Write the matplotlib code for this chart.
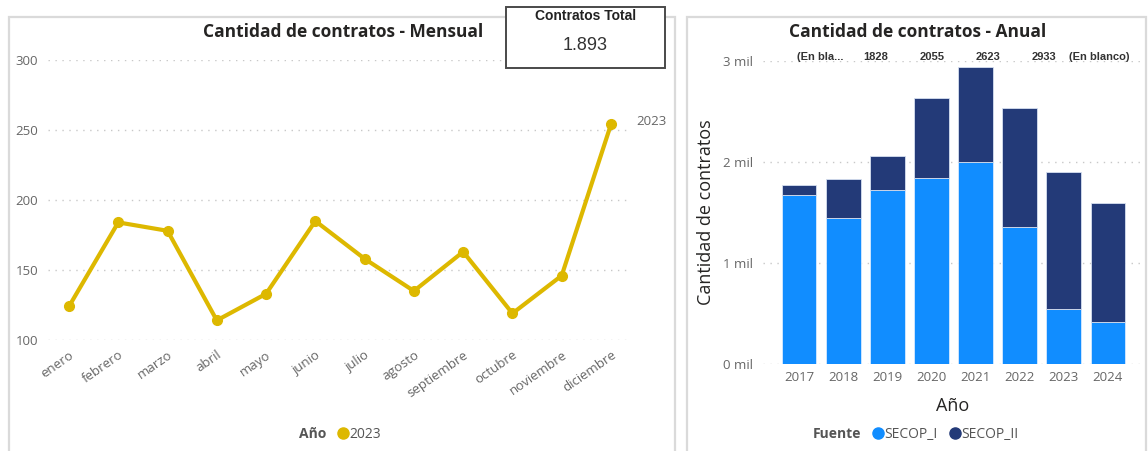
import matplotlib
matplotlib.use("Agg")
import matplotlib.pyplot as plt
from matplotlib.patches import Rectangle
from matplotlib.lines import Line2D

# ---------------- data ----------------
meses = ["enero", "febrero", "marzo", "abril", "mayo", "junio", "julio",
         "agosto", "septiembre", "octubre", "noviembre", "diciembre"]
contratos_2023 = [124, 184, 178, 114, 133, 185, 158, 135, 163, 119, 146, 254]
serie_label = "2023"
total_label = "1.893"

anios = ["2017", "2018", "2019", "2020", "2021", "2022", "2023", "2024"]
secop_i = [1670, 1445, 1719, 1844, 1999, 1360, 543, 421]
secop_ii = [98, 386, 339, 784, 938, 1169, 1354, 1176]
top_labels = ["(En bla...", "1828", "2055", "2623", "2933", "(En blanco)"]
yticks_r = [0, 1000, 2000, 3000]
yticklabels_r = ["0 mil", "1 mil", "2 mil", "3 mil"]
yticks_l = [100, 150, 200, 250, 300]

# ---------------- style ----------------
W, H = 1148, 451
FONT = ["Open Sans", "DejaVu Sans"]
plt.rcParams["font.family"] = FONT
LINE_C = "#DDB800"
C1 = "#118DFF"
C2 = "#233A78"
TICK_C = "#666666"
GRID_C = "#C8C8C8"
DARK = "#252423"

fig = plt.figure(figsize=(W / 100, H / 100), dpi=100)
fig.patch.set_facecolor("white")

def fx(px):
    return px / W

def fy(py):
    return 1 - py / H

# panel borders
for x0, x1 in [(9, 675), (687, 1146)]:
    fig.patches.append(Rectangle((fx(x0), fy(460)), fx(x1) - fx(x0), fy(17) - fy(460),
                                 transform=fig.transFigure, facecolor="none",
                                 edgecolor="#DADADA", lw=1.6, zorder=0))

# ---------------- left: line chart ----------------
axL = fig.add_axes([fx(48), fy(340), fx(630) - fx(48), fy(60) - fy(340)])
x = list(range(len(meses)))
axL.plot(x, contratos_2023, color=LINE_C, lw=3, marker="o", ms=7, clip_on=False, zorder=3)
axL.set_xlim(-0.426, 11.386)
axL.set_ylim(100, 300)
axL.set_yticks(yticks_l)
axL.set_xticks(x)
axL.set_xticklabels(meses, rotation=35, ha="right", va="top", rotation_mode="anchor")
axL.tick_params(axis="both", length=0, colors=TICK_C, labelsize=9.5)
axL.tick_params(axis="y", pad=7)
axL.tick_params(axis="x", pad=6)
axL.grid(axis="y", color=GRID_C, lw=1, linestyle=(0, (1, 4)))
axL.set_axisbelow(True)
for s in axL.spines.values():
    s.set_visible(False)
axL.annotate(serie_label, xy=(x[-1], contratos_2023[-1]), xytext=(18, 2),
             textcoords="offset points", ha="left", va="center",
             fontsize=9.5, color=TICK_C, annotation_clip=False)

fig.text(fx(343), fy(32), "Cantidad de contratos - Mensual", ha="center", va="center",
         fontsize=12.5, fontweight="bold", color=DARK)

# legend left
fig.text(fx(326), fy(434), "Año", ha="right", va="center", fontsize=10,
         fontweight="bold", color="#555555")
hL = [Line2D([], [], color=LINE_C, marker="o", ls="none", ms=8)]
fig.legend(hL, [serie_label], loc="center left", bbox_to_anchor=(fx(326), fy(434)),
           frameon=False, handletextpad=-0.3, fontsize=10, labelcolor="#555555",
           borderpad=0, handlelength=1.5)

# KPI card
fig.patches.append(Rectangle((fx(506), fy(68)), fx(665) - fx(506), fy(7) - fy(68),
                             transform=fig.transFigure, facecolor="white",
                             edgecolor="#4A4A4A", lw=1.4, zorder=5))
fig.text(fx(585.5), fy(16), "Contratos Total", ha="center", va="center",
         fontsize=10, fontweight="bold", color="#222222",
         family=["Liberation Sans", "DejaVu Sans"], zorder=6)
fig.text(fx(585.5), fy(46), total_label, ha="center", va="center",
         fontsize=13, color="#333333", family=["Liberation Sans", "DejaVu Sans"], zorder=6)

# ---------------- right: stacked bars ----------------
axR = fig.add_axes([fx(763), fy(364.3), fx(1143) - fx(763), fy(60.7) - fy(364.3)])
xr = list(range(len(anios)))
axR.bar(xr, secop_i, width=0.78, color=C1, edgecolor="#D6E9FF", lw=0.6, zorder=2)
axR.bar(xr, secop_ii, bottom=secop_i, width=0.78, color=C2, edgecolor="#D6E0F0",
        lw=0.6, zorder=2)
axR.set_xlim(-0.823, 7.80)
axR.set_ylim(0, 3000)
axR.set_yticks(yticks_r)
axR.set_yticklabels(yticklabels_r)
axR.set_xticks(xr)
axR.set_xticklabels(anios)
axR.tick_params(axis="both", length=0, colors=TICK_C, labelsize=9.5)
axR.tick_params(axis="y", pad=7)
axR.tick_params(axis="x", pad=5)
axR.grid(axis="y", color=GRID_C, lw=1, linestyle=(0, (1, 4)))
axR.set_axisbelow(True)
for s in axR.spines.values():
    s.set_visible(False)
axR.set_xlabel("Año", fontsize=13, color=DARK, labelpad=9)
axR.set_ylabel("Cantidad de contratos", fontsize=13, color=DARK, labelpad=6)

for i, lab in enumerate(top_labels):
    fx_ = 0.15 + i * 0.147
    axR.text(fx_, 1.012, lab, transform=axR.transAxes, ha="center", va="center",
             fontsize=8, fontweight="bold", color="#333333",
             family=["Liberation Sans", "DejaVu Sans"])

fig.text(fx(918), fy(32), "Cantidad de contratos - Anual", ha="center", va="center",
         fontsize=12.5, fontweight="bold", color=DARK)

fig.text(fx(861), fy(434), "Fuente", ha="right", va="center", fontsize=10,
         fontweight="bold", color="#555555")
hR = [Line2D([], [], color=C1, marker="o", ls="none", ms=8),
      Line2D([], [], color=C2, marker="o", ls="none", ms=8)]
fig.legend(hR, ["SECOP_I", "SECOP_II"], loc="center left",
           bbox_to_anchor=(fx(861), fy(434)), frameon=False, ncol=2,
           handletextpad=-0.3, columnspacing=0.5, fontsize=10, labelcolor="#555555",
           borderpad=0, handlelength=1.5)

fig.savefig("out.png", dpi=100, facecolor="white")
